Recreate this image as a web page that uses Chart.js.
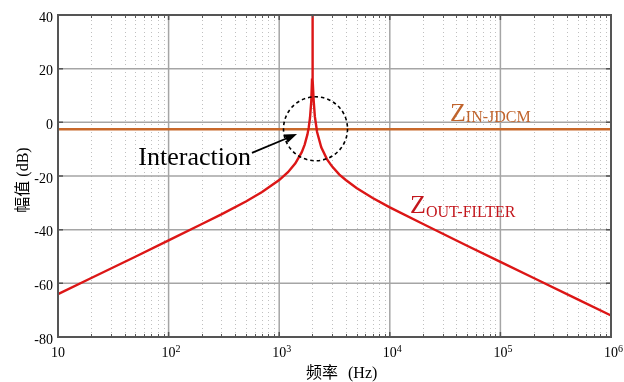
<!DOCTYPE html>
<html>
<head>
<meta charset="utf-8">
<script src="https://cdn.jsdelivr.net/npm/chart.js@4/dist/chart.umd.min.js"></script>
<style>
  html, body { margin: 0; padding: 0; background: #fff; }
  canvas { display: block; }
</style>
</head>
<body>
<canvas id="bode" width="624" height="382"></canvas>
<script>
// frequency (Hz) / magnitude (dB)
const freqHz = [10, 20, 50, 100, 200, 300, 500, 700, 1000, 1200, 1400, 1600, 1700, 1800, 1850,
  1900, 1950, 1980, 1995, 2000, 2005, 2020, 2050, 2100, 2200, 2400, 2700, 3000, 3500, 4000,
  5000, 7000, 10000, 20000, 50000, 100000, 200000, 500000, 1000000];
const zOutFilter = [-64, -58, -50.1, -44, -37.9, -34.3, -29.5, -26, -21.5, -18.6, -15.3,
  -11.1, -8.3, -4.5, -1.9, 1.8, 7.9, 15.9, 28, 60, 28, 16, 8.1, 2.2, -3.6, -9.3, -13.7,
  -16.4, -19.5, -21.5, -24.5, -28.2, -31.7, -37.9, -46, -52, -58, -66, -72];
const inFreqHz = [10, 1000000];
const zInJdcm = [-2.6, -2.6];

const xDecades = [10, 100, 1000, 10000, 100000, 1000000];
const xDecadeExp = ['', '2', '3', '4', '5', '6'];
const yGrid = [-60, -40, -20, 0, 20];

const serif = "'Liberation Serif', 'Times New Roman', serif";
const cjk = "'Liberation Serif', 'Noto Sans CJK SC', serif";
const redLine = 'rgb(220,22,22)';
const orangeLine = 'rgb(200,104,42)';

const decor = {
  id: 'decor',
  beforeDatasetsDraw(chart) {
    const { ctx, chartArea: a, scales: { x, y } } = chart;
    ctx.save();
    // minor dotted grid
    ctx.strokeStyle = 'rgb(192,192,192)';
    ctx.lineWidth = 1;
    ctx.setLineDash([1, 3]);
    for (let d = 0; d < xDecades.length - 1; d++) {
      for (let k = 2; k <= 9; k++) {
        const p = Math.round(x.getPixelForValue(xDecades[d] * k)) + 0.5;
        ctx.beginPath(); ctx.moveTo(p, a.top + 1); ctx.lineTo(p, a.bottom); ctx.stroke();
      }
    }
    // major grid
    ctx.setLineDash([]);
    ctx.strokeStyle = 'rgb(165,165,165)';
    ctx.lineWidth = 1.5;
    xDecades.slice(1, -1).forEach(v => {
      const p = x.getPixelForValue(v);
      ctx.beginPath(); ctx.moveTo(p, a.top); ctx.lineTo(p, a.bottom); ctx.stroke();
    });
    yGrid.forEach(v => {
      const p = y.getPixelForValue(v);
      ctx.beginPath(); ctx.moveTo(a.left, p); ctx.lineTo(a.right, p); ctx.stroke();
    });
    ctx.restore();
  },
  afterDatasetsDraw(chart) {
    const { ctx, chartArea: a, scales: { x, y } } = chart;
    ctx.save();

    // frame + inner ticks
    ctx.strokeStyle = 'rgb(85,85,85)';
    ctx.lineWidth = 1;
    for (let d = 0; d < xDecades.length - 1; d++) {
      for (let k = 2; k <= 9; k++) {
        const p = Math.round(x.getPixelForValue(xDecades[d] * k)) + 0.5;
        ctx.beginPath(); ctx.moveTo(p, a.top); ctx.lineTo(p, a.top + 3);
        ctx.moveTo(p, a.bottom); ctx.lineTo(p, a.bottom - 3); ctx.stroke();
      }
    }
    ctx.lineWidth = 1.5;
    xDecades.slice(1, -1).forEach(v => {
      const p = x.getPixelForValue(v);
      ctx.beginPath(); ctx.moveTo(p, a.top); ctx.lineTo(p, a.top + 5);
      ctx.moveTo(p, a.bottom); ctx.lineTo(p, a.bottom - 5); ctx.stroke();
    });
    yGrid.forEach(v => {
      const p = y.getPixelForValue(v);
      ctx.beginPath(); ctx.moveTo(a.left, p); ctx.lineTo(a.left + 5, p);
      ctx.moveTo(a.right, p); ctx.lineTo(a.right - 5, p); ctx.stroke();
    });
    ctx.lineWidth = 2;
    ctx.strokeRect(a.left, a.top, a.right - a.left, a.bottom - a.top);

    // x tick labels: 10, 10^2 ... 10^6
    ctx.fillStyle = '#000';
    ctx.textBaseline = 'alphabetic';
    xDecades.forEach((v, i) => {
      const p = x.getPixelForValue(v);
      ctx.font = '14px ' + serif;
      ctx.textAlign = 'center';
      ctx.fillText('10', p, 357);
      if (xDecadeExp[i]) {
        const w = ctx.measureText('10').width;
        ctx.font = '10px ' + serif;
        ctx.textAlign = 'left';
        ctx.fillText(xDecadeExp[i], p + w / 2, 352);
      }
    });

    // axis titles
    ctx.font = '16px ' + cjk;
    ctx.textAlign = 'left';
    ctx.fillText('频率', 306, 378);
    ctx.fillText('(Hz)', 348, 378);
    ctx.save();
    ctx.translate(28, (a.top + a.bottom) / 2 + 4);
    ctx.rotate(-Math.PI / 2);
    ctx.textAlign = 'center';
    ctx.fillText('幅值 (dB)', 0, 0);
    ctx.restore();

    // dashed circle round the interaction point
    const cx = x.getPixelForValue(2130), cy = y.getPixelForValue(-2.4);
    ctx.strokeStyle = '#000';
    ctx.lineWidth = 1.6;
    ctx.setLineDash([3.5, 3]);
    ctx.beginPath(); ctx.arc(cx, cy, 32, 0, Math.PI * 2); ctx.stroke();
    ctx.setLineDash([]);

    // arrow + Interaction label
    const tx = x.getPixelForValue(567), ty = y.getPixelForValue(-11.4);
    const hx = x.getPixelForValue(1449), hy = y.getPixelForValue(-4.35);
    const ang = Math.atan2(hy - ty, hx - tx);
    ctx.lineWidth = 1.8;
    ctx.beginPath(); ctx.moveTo(tx, ty);
    ctx.lineTo(hx - 9 * Math.cos(ang), hy - 9 * Math.sin(ang)); ctx.stroke();
    ctx.fillStyle = '#000';
    ctx.beginPath();
    ctx.moveTo(hx, hy);
    ctx.lineTo(hx - 12 * Math.cos(ang) + 4.5 * Math.sin(ang), hy - 12 * Math.sin(ang) - 4.5 * Math.cos(ang));
    ctx.lineTo(hx - 12 * Math.cos(ang) - 4.5 * Math.sin(ang), hy - 12 * Math.sin(ang) + 4.5 * Math.cos(ang));
    ctx.closePath(); ctx.fill();
    ctx.font = '26px ' + serif;
    ctx.textAlign = 'right';
    ctx.fillText('Interaction', tx - 1, 165);

    // series labels
    const subLabel = (fx, fy, sub, color, drop) => {
      const lx = x.getPixelForValue(fx), ly = y.getPixelForValue(fy);
      ctx.fillStyle = color;
      ctx.textAlign = 'left';
      ctx.font = '26px ' + serif;
      ctx.fillText('Z', lx, ly);
      const w = ctx.measureText('Z').width;
      ctx.font = '16px ' + serif;
      ctx.fillText(sub, lx + w, ly + drop);
    };
    subLabel(34990, 0.5, 'IN-JDCM', 'rgb(192,100,45)', 1);
    subLabel(15240, -33.8, 'OUT-FILTER', 'rgb(195,22,28)', 4);

    ctx.restore();
  }
};

new Chart(document.getElementById('bode'), {
  type: 'line',
  data: {
    datasets: [
      {
        label: 'Z_OUT-FILTER',
        data: freqHz.map((f, i) => ({ x: f, y: zOutFilter[i] })),
        borderColor: redLine,
        borderWidth: 2.4,
        pointRadius: 0,
        tension: 0,
        order: 1
      },
      {
        label: 'Z_IN-JDCM',
        data: inFreqHz.map((f, i) => ({ x: f, y: zInJdcm[i] })),
        borderColor: orangeLine,
        borderWidth: 2.5,
        pointRadius: 0,
        order: 2
      }
    ]
  },
  options: {
    responsive: false,
    animation: false,
    devicePixelRatio: 1,
    layout: { padding: { top: 15, right: 13, left: 0, bottom: 0 } },
    plugins: { legend: { display: false }, tooltip: { enabled: false } },
    scales: {
      x: {
        type: 'logarithmic',
        min: 10,
        max: 1000000,
        grid: { display: false },
        border: { display: false },
        ticks: { display: false },
        afterFit: s => { s.height = 45; }
      },
      y: {
        type: 'linear',
        min: -80,
        max: 40,
        grid: { display: false, drawTicks: false },
        border: { display: false },
        ticks: {
          stepSize: 20,
          padding: 5,
          labelOffset: 3,
          color: '#000',
          font: { family: serif, size: 14 }
        },
        afterFit: s => { s.width = 58; }
      }
    }
  },
  plugins: [decor]
});
</script>
</body>
</html>
